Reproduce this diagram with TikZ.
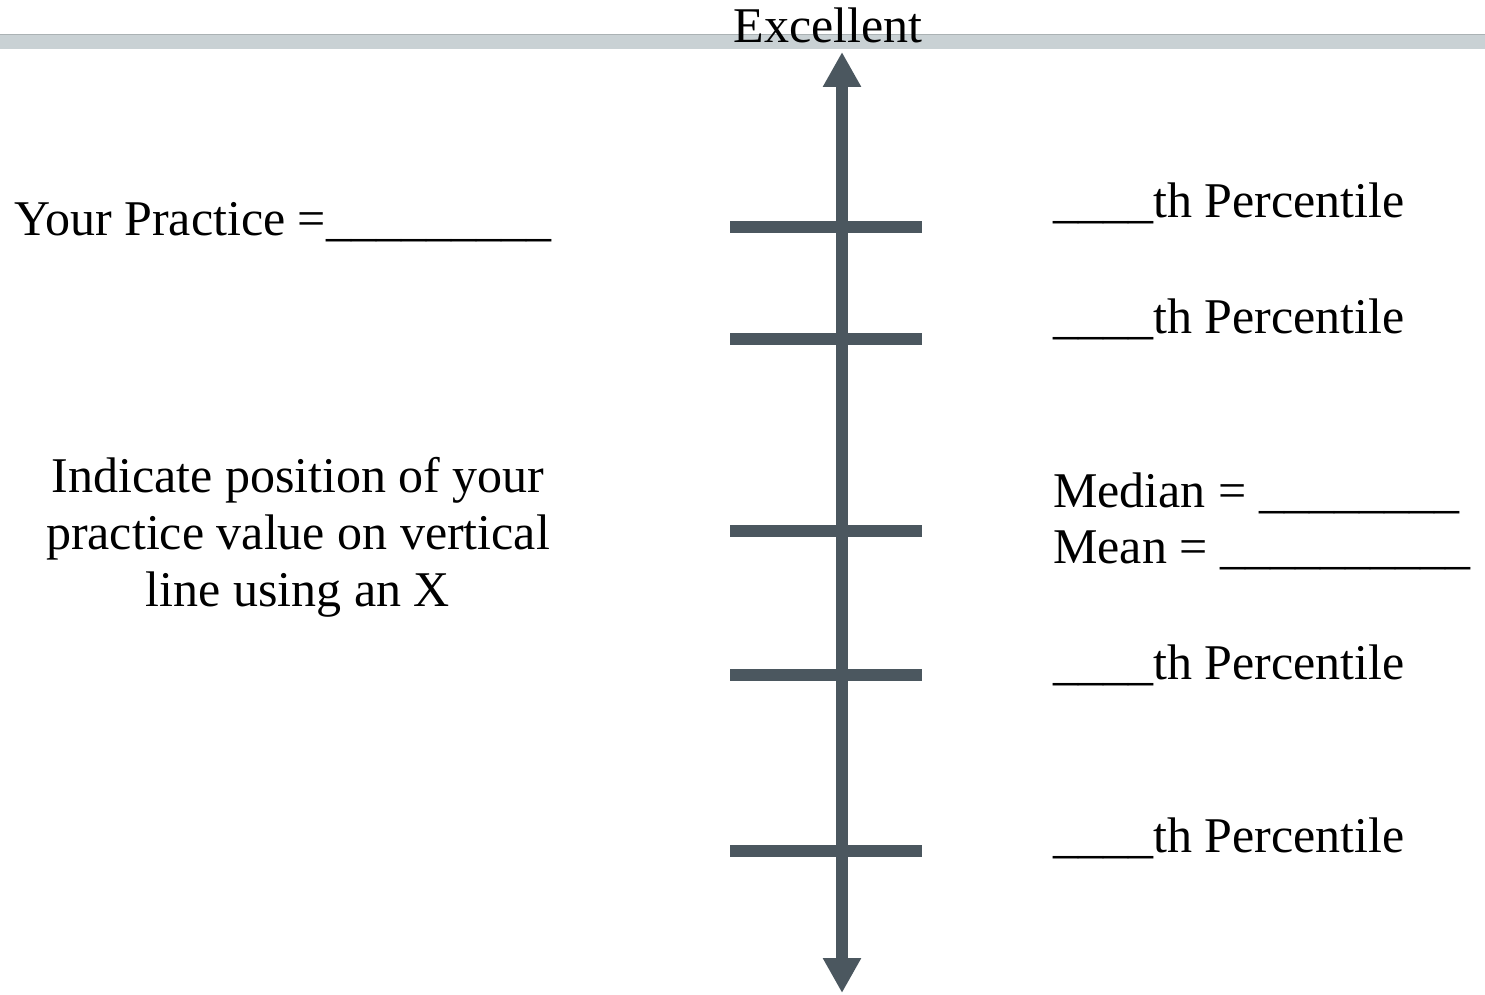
\documentclass[tikz,border=0pt]{standalone}
\usepackage{fontspec}
\setmainfont{Liberation Serif}
\usetikzlibrary{arrows.meta}
\definecolor{axis}{HTML}{4B575F}
\definecolor{band}{HTML}{C9D1D4}
\tikzset{
  lbl/.style={font=\fontsize{50}{57}\selectfont, inner sep=0pt, text=black},
  tick/.style={draw=axis, line width=12pt},
  axisline/.style={draw=axis, line width=12pt, {Triangle[width=36pt,length=35pt]}-{Triangle[width=36pt,length=35pt]}}
}
\begin{document}
\begin{tikzpicture}[x=1pt,y=-1pt]
\useasboundingbox (0,0) rectangle (1485,995);
\fill[band] (0,35) rectangle (1485,49);
\draw[band!85!black, line width=1pt] (0,35) -- (1485,35);
\node[lbl, anchor=base] (exc) at (828,43) {Excellent};
\coordinate (top) at (842,52);
\coordinate (bot) at (842,993);
\foreach \n/\y in {t1/227,t2/339,t3/531,t4/675,t5/851}{
  \coordinate (\n a) at (730,\y);
  \coordinate (\n b) at (922,\y);
  \draw[tick] (\n a) -- (\n b);
}
\draw[axisline] (bot) -- (top);
\node[lbl, anchor=base west] (yp) at (14,235) {Your Practice =\_\_\_\_\_\_\_\_\_};
\node[lbl, anchor=base, align=center] (ind) at (298,606) {Indicate position of your\\practice value on vertical\\line using an X};
\node[lbl, anchor=base west] (p1) at (1053,218) {\_\_\_\_th Percentile};
\node[lbl, anchor=base west] (p2) at (1053,333) {\_\_\_\_th Percentile};
\node[lbl, anchor=base west] (med) at (1053,507) {Median = \_\_\_\_\_\_\_\_};
\node[lbl, anchor=base west] (mean) at (1053,563) {Mean = \_\_\_\_\_\_\_\_\_\_};
\node[lbl, anchor=base west] (p3) at (1053,679) {\_\_\_\_th Percentile};
\node[lbl, anchor=base west] (p4) at (1053,852) {\_\_\_\_th Percentile};
\end{tikzpicture}
\end{document}
